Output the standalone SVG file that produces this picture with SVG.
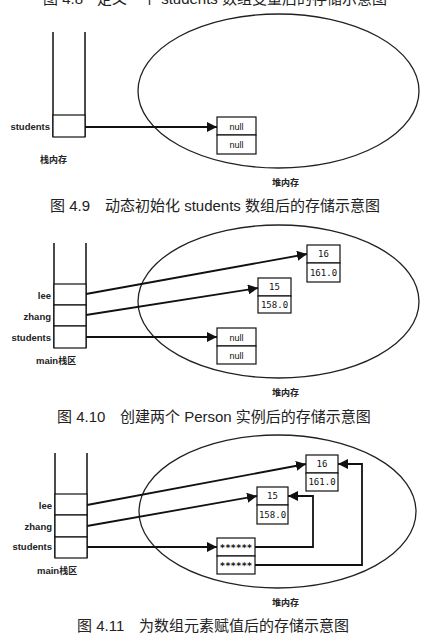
<svg xmlns="http://www.w3.org/2000/svg" width="447" height="643" viewBox="0 0 447 643">
<defs>
<marker id="ah" viewBox="0 0 10 10" refX="10" refY="5" markerWidth="10" markerHeight="10" markerUnits="userSpaceOnUse" orient="auto">
<path d="M0,0 L10,5 L0,10 z" fill="#111"/>
</marker>
<style>
.ln{stroke:#111;stroke-width:1.5;fill:none}
.el{stroke:#222;stroke-width:1.3;fill:none}
.bx{stroke:#111;stroke-width:1.2;fill:#fff}
.ar{stroke:#111;stroke-width:1.8;fill:none;marker-end:url(#ah)}
.lb{font-family:"Liberation Sans","Noto Sans CJK SC",sans-serif;font-size:9.5px;font-weight:bold;fill:#222}
.cn{font-family:"Noto Sans CJK SC",sans-serif;font-size:9px;font-weight:bold;fill:#222}
.nl{font-family:"Liberation Sans",sans-serif;font-size:9px;fill:#111;text-anchor:middle}
.mn{font-family:"DejaVu Sans Mono",monospace;font-size:9px;fill:#111;text-anchor:middle}
.cap{font-family:"Liberation Sans","Noto Sans CJK SC",sans-serif;font-size:15px;fill:#222}
</style>
</defs>
<rect width="447" height="643" fill="#fff"/>
<text class="cap" x="43" y="4">图 4.8<tspan x="97">定义一个 students 数组变量后的存储示意图</tspan></text>

<!-- Figure 4.9 -->
<g id="fig49-heap"><ellipse class="el" cx="278.5" cy="91" rx="140.5" ry="77"/><text class="cn" x="272" y="186">堆内存</text></g>
<g id="fig49-stack">
<path class="ln" d="M53,32 V137 M85,32 V137"/>
<rect class="bx" x="53" y="115" width="32" height="22"/>
<text class="lb" x="50" y="130" text-anchor="end">students</text>
<text class="cn" x="40" y="163">栈内存</text>
</g>
<g id="fig49-array">
<rect class="bx" x="217" y="117" width="39" height="18"/><rect class="bx" x="217" y="135" width="39" height="19"/>
<text class="nl" x="236.5" y="129.5">null</text><text class="nl" x="236.5" y="148">null</text>
</g>
<g id="fig49-conn"><path class="ar" d="M85,127 H217"/></g>
<text class="cap" x="50" y="211">图 4.9<tspan x="105">动态初始化 students 数组后的存储示意图</tspan></text>

<!-- Figure 4.10 -->
<g id="fig410-heap"><ellipse class="el" cx="278.5" cy="301.5" rx="140.5" ry="76.5"/><text class="cn" x="272" y="396">堆内存</text></g>
<g id="fig410-stack">
<path class="ln" d="M54,243 V348 M86,243 V348"/>
<rect class="bx" x="54" y="284" width="32" height="21"/><rect class="bx" x="54" y="305" width="32" height="21"/><rect class="bx" x="54" y="326" width="32" height="22"/>
<text class="lb" x="51" y="299" text-anchor="end">lee</text>
<text class="lb" x="51" y="320" text-anchor="end">zhang</text>
<text class="lb" x="51" y="341" text-anchor="end">students</text>
<text class="lb" x="36" y="364">main<tspan class="cn">栈区</tspan></text>
</g>
<g id="fig410-p16"><rect class="bx" x="307" y="245" width="33" height="18"/><rect class="bx" x="307" y="263" width="33" height="19"/><text class="mn" x="323.5" y="257">16</text><text class="mn" x="323.5" y="276">161.0</text></g>
<g id="fig410-p15"><rect class="bx" x="258" y="278" width="33" height="18"/><rect class="bx" x="258" y="296" width="33" height="17"/><text class="mn" x="274.5" y="290">15</text><text class="mn" x="274.5" y="308">158.0</text></g>
<g id="fig410-array"><rect class="bx" x="217" y="328" width="39" height="18"/><rect class="bx" x="217" y="346" width="39" height="18"/><text class="nl" x="236.5" y="340.5">null</text><text class="nl" x="236.5" y="358.5">null</text></g>
<g id="fig410-conn">
<path class="ar" d="M86,294 L307,254"/>
<path class="ar" d="M86,315 L258,288"/>
<path class="ar" d="M86,337 H217"/>
</g>
<text class="cap" x="57" y="422">图 4.10<tspan x="120">创建两个 Person 实例后的存储示意图</tspan></text>

<!-- Figure 4.11 -->
<g id="fig411-heap"><ellipse class="el" cx="277.5" cy="511.5" rx="138.5" ry="76.5"/><text class="cn" x="272" y="606">堆内存</text></g>
<g id="fig411-stack">
<path class="ln" d="M55,453 V558 M87,453 V558"/>
<rect class="bx" x="55" y="494" width="32" height="21"/><rect class="bx" x="55" y="515" width="32" height="22"/><rect class="bx" x="55" y="537" width="32" height="21"/>
<text class="lb" x="52" y="509" text-anchor="end">lee</text>
<text class="lb" x="52" y="530" text-anchor="end">zhang</text>
<text class="lb" x="52" y="550" text-anchor="end">students</text>
<text class="lb" x="37" y="574">main<tspan class="cn">栈区</tspan></text>
</g>
<g id="fig411-p16"><rect class="bx" x="306" y="455" width="32" height="18"/><rect class="bx" x="306" y="473" width="32" height="18"/><text class="mn" x="322" y="467">16</text><text class="mn" x="322" y="485">161.0</text></g>
<g id="fig411-p15"><rect class="bx" x="257" y="487" width="31" height="18"/><rect class="bx" x="257" y="505" width="31" height="19"/><text class="mn" x="272.5" y="499">15</text><text class="mn" x="272.5" y="518">158.0</text></g>
<g id="fig411-array"><rect class="bx" x="217" y="538" width="38" height="18"/><rect class="bx" x="217" y="556" width="38" height="18"/><text class="mn" x="236" y="551" font-weight="bold">******</text><text class="mn" x="236" y="569" font-weight="bold">******</text></g>
<g id="fig411-conn">
<path class="ar" d="M87,505 L306,464"/>
<path class="ar" d="M87,526 L257,496"/>
<path class="ar" d="M87,547 H217"/>
<path class="ar" d="M255,547 H313 V496 H288"/>
<path class="ar" d="M255,565 H362 V464 H338"/>
</g>
<text class="cap" x="77" y="631">图 4.11<tspan x="139">为数组元素赋值后的存储示意图</tspan></text>
</svg>
